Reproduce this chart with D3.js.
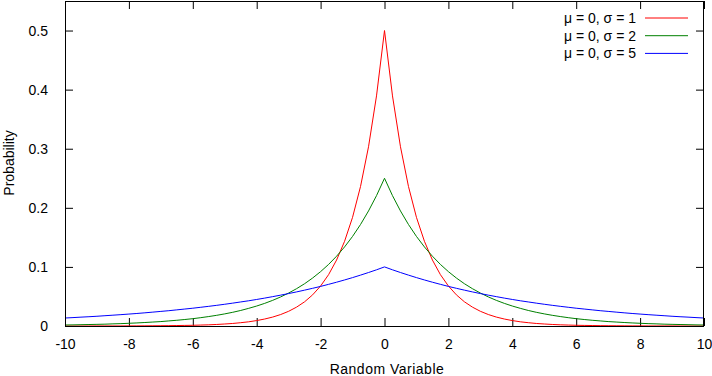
<!DOCTYPE html>
<html>
<head>
<meta charset="utf-8">
<script src="https://cdn.jsdelivr.net/npm/d3@7"></script>
<style>
  body { margin: 0; background: #fff; }
  text { font-family: "Liberation Sans", Arial, sans-serif; }
</style>
</head>
<body>
<svg></svg>
<script>
// x: random variable, y: probability density (Laplace, mu = 0)

const xValues = [-10,-9.75,-9.5,-9.25,-9,-8.75,-8.5,-8.25,-8,-7.75,-7.5,-7.25,-7,-6.75,-6.5,-6.25,-6,-5.75,-5.5,-5.25,-5,-4.75,-4.5,-4.25,-4,-3.75,-3.5,-3.25,-3,-2.75,-2.5,-2.25,-2,-1.75,-1.5,-1.25,-1,-0.75,-0.5,-0.25,
  0,0.25,0.5,0.75,1,1.25,1.5,1.75,2,2.25,2.5,2.75,3,3.25,3.5,3.75,4,4.25,4.5,4.75,5,5.25,5.5,5.75,6,6.25,6.5,6.75,7,7.25,7.5,7.75,8,8.25,8.5,8.75,9,9.25,9.5,9.75,10];

const sigma1 = [0,0,0,0,0.0001,0.0001,0.0001,0.0001,0.0002,0.0002,0.0003,0.0004,0.0005,0.0006,0.0008,0.0010,0.0012,0.0016,0.0020,0.0026,0.0034,0.0043,0.0056,0.0071,0.0092,0.0118,0.0151,0.0194,0.0249,0.0320,0.0410,0.0527,0.0677,0.0869,0.1116,0.1433,0.1839,0.2362,0.3033,0.3894,
  0.5,0.3894,0.3033,0.2362,0.1839,0.1433,0.1116,0.0869,0.0677,0.0527,0.0410,0.0320,0.0249,0.0194,0.0151,0.0118,0.0092,0.0071,0.0056,0.0043,0.0034,0.0026,0.0020,0.0016,0.0012,0.0010,0.0008,0.0006,0.0005,0.0004,0.0003,0.0002,0.0002,0.0001,0.0001,0.0001,0.0001,0,0,0,0];

const sigma2 = [0.0017,0.0019,0.0022,0.0025,0.0028,0.0031,0.0036,0.0040,0.0046,0.0052,0.0059,0.0067,0.0075,0.0086,0.0097,0.0110,0.0124,0.0141,0.0160,0.0181,0.0205,0.0232,0.0263,0.0299,0.0338,0.0383,0.0434,0.0492,0.0558,0.0632,0.0716,0.0812,0.0920,0.1042,0.1181,0.1338,0.1516,0.1718,0.1947,0.2206,
  0.25,0.2206,0.1947,0.1718,0.1516,0.1338,0.1181,0.1042,0.0920,0.0812,0.0716,0.0632,0.0558,0.0492,0.0434,0.0383,0.0338,0.0299,0.0263,0.0232,0.0205,0.0181,0.0160,0.0141,0.0124,0.0110,0.0097,0.0086,0.0075,0.0067,0.0059,0.0052,0.0046,0.0040,0.0036,0.0031,0.0028,0.0025,0.0022,0.0019,0.0017];

const sigma5 = [0.0135,0.0142,0.0150,0.0157,0.0165,0.0174,0.0183,0.0192,0.0202,0.0212,0.0223,0.0235,0.0247,0.0259,0.0273,0.0287,0.0301,0.0317,0.0333,0.0350,0.0368,0.0387,0.0407,0.0427,0.0449,0.0472,0.0497,0.0522,0.0549,0.0577,0.0607,0.0638,0.0670,0.0705,0.0741,0.0779,0.0819,0.0861,0.0905,0.0951,
  0.1,0.0951,0.0905,0.0861,0.0819,0.0779,0.0741,0.0705,0.0670,0.0638,0.0607,0.0577,0.0549,0.0522,0.0497,0.0472,0.0449,0.0427,0.0407,0.0387,0.0368,0.0350,0.0333,0.0317,0.0301,0.0287,0.0273,0.0259,0.0247,0.0235,0.0223,0.0212,0.0202,0.0192,0.0183,0.0174,0.0165,0.0157,0.0150,0.0142,0.0135];

const seriesLabels = ["μ = 0, σ = 1", "μ = 0, σ = 2", "μ = 0, σ = 5"];
const seriesColors = ["#ff0000", "#008000", "#0000ff"];
const xTicks = [-10, -8, -6, -4, -2, 0, 2, 4, 6, 8, 10];
const yTicks = [0, 0.1, 0.2, 0.3, 0.4, 0.5];

const width = 712;
const height = 376;
const plotLeft = 65, plotRight = 704, plotTop = 1, plotBottom = 326;
const tickLen = 8;
const fontSize = 14;

const xScale = d3.scaleLinear().domain([-10, 10]).range([plotLeft, plotRight]);
const yScale = d3.scaleLinear().domain([0, 0.55]).range([plotBottom, plotTop]);

const svg = d3.select("svg")
    .attr("width", width)
    .attr("height", height);

// Axes (ticks inward, mirrored on top/right)
svg.append("g")
    .attr("transform", `translate(0, ${plotBottom})`)
    .call(d3.axisBottom(xScale).tickValues(xTicks).tickSize(-tickLen).tickPadding(13)
      .tickFormat(d => String(d)).tickSizeOuter(0))
    .call(g => g.select(".domain").remove());

svg.append("g")
    .attr("transform", `translate(0, ${plotTop})`)
    .call(d3.axisTop(xScale).tickValues(xTicks).tickSize(-tickLen).tickFormat("").tickSizeOuter(0))
    .call(g => g.select(".domain").remove());

svg.append("g")
    .attr("transform", `translate(${plotLeft}, 0)`)
    .call(d3.axisLeft(yScale).tickValues(yTicks).tickSize(-tickLen).tickPadding(17)
      .tickFormat(d => String(d)).tickSizeOuter(0))
    .call(g => g.select(".domain").remove());

svg.append("g")
    .attr("transform", `translate(${plotRight}, 0)`)
    .call(d3.axisRight(yScale).tickValues(yTicks).tickSize(-tickLen).tickFormat("").tickSizeOuter(0))
    .call(g => g.select(".domain").remove());

svg.selectAll(".tick text")
    .attr("font-size", fontSize)
    .attr("font-family", "Liberation Sans, Arial, sans-serif")
    .attr("fill", "#000");
svg.selectAll(".tick line").attr("stroke", "#000");

// Curves
const line = d3.line()
    .x((d, i) => xScale(xValues[i]))
    .y(d => yScale(d));

[sigma1, sigma2, sigma5].forEach((s, i) => {
  svg.append("path")
      .datum(s)
      .attr("fill", "none")
      .attr("stroke", seriesColors[i])
      .attr("stroke-width", 1)
      .attr("d", line);
});

// Frame
svg.append("rect")
    .attr("x", plotLeft + 0.5)
    .attr("y", plotTop + 0.5)
    .attr("width", plotRight - plotLeft - 1)
    .attr("height", plotBottom - plotTop)
    .attr("fill", "none")
    .attr("stroke", "#000");

// Legend
const legend = svg.append("g");
seriesLabels.forEach((lab, i) => {
  const y = 18 + i * 17.7;
  legend.append("text")
      .attr("x", 636)
      .attr("y", y + 5)
      .attr("text-anchor", "end")
      .attr("font-size", fontSize)
      .text(lab);
  legend.append("line")
      .attr("x1", 645).attr("x2", 688)
      .attr("y1", y).attr("y2", y)
      .attr("stroke", seriesColors[i]);
});

// Axis titles
svg.append("text")
    .attr("x", 387)
    .attr("y", 374)
    .attr("text-anchor", "middle")
    .attr("font-size", fontSize)
    .attr("letter-spacing", 0.5)
    .text("Random Variable");

svg.append("text")
    .attr("transform", `translate(14, 163) rotate(-90)`)
    .attr("text-anchor", "middle")
    .attr("font-size", fontSize)
    .text("Probability");
</script>
</body>
</html>
